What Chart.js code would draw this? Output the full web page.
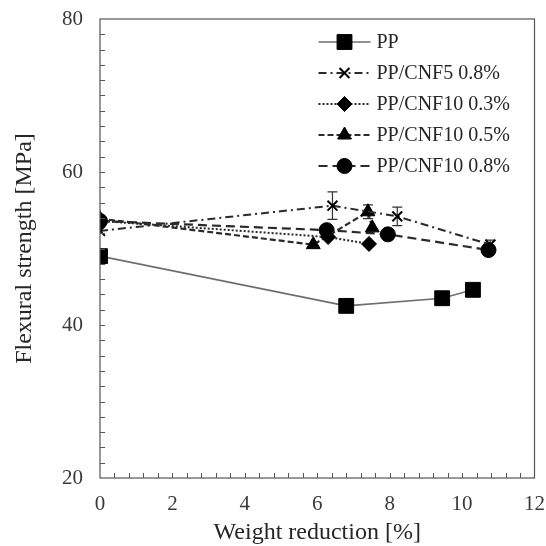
<!DOCTYPE html>
<html>
<head>
<meta charset="utf-8">
<script src="https://cdn.jsdelivr.net/npm/chart.js@4.4.0/dist/chart.umd.min.js"></script>
<style>
  html, body { margin: 0; padding: 0; background: #ffffff; }
  #wrap { width: 546px; height: 546px; position: relative; }
</style>
</head>
<body>
<div id="wrap"><canvas id="chart"></canvas></div>
<script>
// Series names
const seriesNames = ['PP', 'PP/CNF5 0.8%', 'PP/CNF10 0.3%', 'PP/CNF10 0.5%', 'PP/CNF10 0.8%'];

// Weight reduction [%] and flexural strength [MPa] per series
const ppX = [0, 6.8, 9.45, 10.3];
const ppY = [49.0, 42.5, 43.5, 44.6];

const cnf5x08X = [0, 6.42, 8.21, 10.78];
const cnf5x08Y = [52.3, 55.6, 54.2, 50.5];
const cnf5x08Err = [0, 1.8, 1.2, 0.6];

const cnf10x03X = [0, 6.30, 7.43];
const cnf10x03Y = [53.6, 51.5, 50.6];

const cnf10x05X = [0, 5.89, 7.40, 7.52];
const cnf10x05Y = [53.9, 50.5, 54.8, 52.7];
const cnf10x05Err = [0, 0, 0.9, 0];

const cnf10x08X = [0, 6.26, 7.95, 10.73];
const cnf10x08Y = [53.6, 52.4, 51.85, 49.8];

// Axis settings
const xMin = 0, xMax = 12, xStep = 2, xMinorStep = 0.4;
const yMin = 20, yMax = 80, yStep = 20, yMinorStep = 2;

const SERIF = "'Liberation Serif', 'Times New Roman', serif";

function points(xs, ys) {
  return xs.map((x, i) => ({ x: x, y: ys[i] }));
}

const datasets = [
  {
    label: seriesNames[0], data: points(ppX, ppY),
    borderColor: '#6e6e6e', borderWidth: 1.6, borderDash: [],
    pointStyle: 'rect', pointRadius: 10.5, pointHoverRadius: 10.5,
    pointBackgroundColor: '#000', pointBorderColor: '#000', pointBorderWidth: 1
  },
  {
    label: seriesNames[1], data: points(cnf5x08X, cnf5x08Y), errors: cnf5x08Err,
    borderColor: '#2a2a2a', borderWidth: 2, borderDash: [8, 4, 2, 4],
    pointStyle: 'crossRot', pointRadius: 7, pointHoverRadius: 7,
    pointBackgroundColor: '#000', pointBorderColor: '#000', pointBorderWidth: 2
  },
  {
    label: seriesNames[2], data: points(cnf10x03X, cnf10x03Y),
    borderColor: '#2a2a2a', borderWidth: 2, borderDash: [2, 2],
    pointStyle: 'rectRot', pointRadius: 7.5, pointHoverRadius: 7.5,
    pointBackgroundColor: '#000', pointBorderColor: '#000', pointBorderWidth: 1
  },
  {
    label: seriesNames[3], data: points(cnf10x05X, cnf10x05Y), errors: cnf10x05Err,
    borderColor: '#2a2a2a', borderWidth: 2.2, borderDash: [6, 3],
    pointStyle: 'triangle', pointRadius: 8, pointHoverRadius: 8,
    pointBackgroundColor: '#000', pointBorderColor: '#000', pointBorderWidth: 1
  },
  {
    label: seriesNames[4], data: points(cnf10x08X, cnf10x08Y),
    borderColor: '#2a2a2a', borderWidth: 2.2, borderDash: [9, 5],
    pointStyle: 'circle', pointRadius: 7.5, pointHoverRadius: 7.5,
    pointBackgroundColor: '#000', pointBorderColor: '#000', pointBorderWidth: 1
  }
];

// Frame, inward tick marks and error bars
const decorations = {
  id: 'decorations',
  beforeDatasetsDraw(chart) {
    const { ctx, scales: { x, y } } = chart;
    ctx.save();
    ctx.strokeStyle = '#333';
    ctx.lineWidth = 1.2;
    chart.data.datasets.forEach((ds) => {
      if (!ds.errors) return;
      ds.data.forEach((p, i) => {
        const e = ds.errors[i];
        if (!e) return;
        const px = x.getPixelForValue(p.x);
        const top = y.getPixelForValue(p.y + e);
        const bot = y.getPixelForValue(p.y - e);
        ctx.beginPath();
        ctx.moveTo(px, top); ctx.lineTo(px, bot);
        ctx.moveTo(px - 5, top); ctx.lineTo(px + 5, top);
        ctx.moveTo(px - 5, bot); ctx.lineTo(px + 5, bot);
        ctx.stroke();
      });
    });
    ctx.restore();
  },
  afterDraw(chart) {
    const { ctx, chartArea: a, scales: { x, y } } = chart;
    ctx.save();
    ctx.strokeStyle = '#555';
    ctx.lineWidth = 1.2;
    ctx.strokeRect(a.left, a.top, a.right - a.left, a.bottom - a.top);
    ctx.lineWidth = 1;
    ctx.beginPath();
    const ny = Math.round((yMax - yMin) / yMinorStep);
    for (let i = 1; i < ny; i++) {
      const py = Math.round(y.getPixelForValue(yMin + i * yMinorStep)) + 0.5;
      ctx.moveTo(a.left, py); ctx.lineTo(a.left + 5, py);
    }
    const nx = Math.round((xMax - xMin) / xMinorStep);
    for (let i = 1; i < nx; i++) {
      const px = Math.round(x.getPixelForValue(xMin + i * xMinorStep)) + 0.5;
      ctx.moveTo(px, a.bottom); ctx.lineTo(px, a.bottom - 5);
    }
    ctx.stroke();
    ctx.restore();
  }
};

// Legend drawn in the upper right of the plot area
const innerLegend = {
  id: 'innerLegend',
  afterDraw(chart) {
    const { ctx, chartArea: a } = chart;
    const x0 = a.right - 216, x1 = a.right - 164, xm = (x0 + x1) / 2;
    const tx = a.right - 158;
    ctx.save();
    chart.data.datasets.forEach((ds, i) => {
      const yy = a.top + 23 + i * 31;
      ctx.strokeStyle = ds.borderColor;
      ctx.lineWidth = ds.borderWidth;
      ctx.setLineDash(ds.borderDash || []);
      ctx.beginPath();
      ctx.moveTo(x0, yy); ctx.lineTo(x1, yy);
      ctx.stroke();
      ctx.setLineDash([]);
      ctx.fillStyle = ds.pointBackgroundColor;
      ctx.strokeStyle = ds.pointBorderColor;
      ctx.lineWidth = ds.pointBorderWidth;
      Chart.helpers.drawPoint(ctx, {
        pointStyle: ds.pointStyle, radius: ds.pointRadius, rotation: 0,
        borderWidth: ds.pointBorderWidth
      }, xm, yy);
      ctx.fillStyle = '#262626';
      ctx.font = '20px ' + SERIF;
      ctx.textAlign = 'left';
      ctx.textBaseline = 'middle';
      ctx.fillText(ds.label, tx, yy + 1);
    });
    ctx.restore();
  }
};

new Chart(document.getElementById('chart'), {
  type: 'line',
  data: { datasets: datasets },
  options: {
    responsive: true,
    maintainAspectRatio: false,
    animation: false,
    layout: { padding: { left: 0, right: 10, top: 19, bottom: 0 } },
    plugins: { legend: { display: false }, tooltip: { enabled: false } },
    elements: { line: { tension: 0, fill: false } },
    scales: {
      x: {
        type: 'linear', min: xMin, max: xMax,
        grid: { display: false, drawTicks: false },
        border: { display: false },
        ticks: { stepSize: xStep, padding: 14, color: '#3a3a3a', font: { family: SERIF, size: 21 } },
        title: {
          display: true, text: 'Weight reduction [%]', color: '#262626',
          font: { family: SERIF, size: 24, lineHeight: 1 }, padding: { top: 0, bottom: 1 }
        },
        afterFit(scale) {
          scale.height = 68;
          scale.paddingLeft = 0;
          scale.paddingRight = 0;
        }
      },
      y: {
        type: 'linear', min: yMin, max: yMax,
        grid: { display: false, drawTicks: false },
        border: { display: false },
        ticks: { stepSize: yStep, padding: 17, color: '#3a3a3a', font: { family: SERIF, size: 21 } },
        title: {
          display: true, text: 'Flexural strength [MPa]', color: '#262626',
          font: { family: SERIF, size: 24, lineHeight: 1 }, padding: { top: 13, bottom: 0 }
        },
        afterFit(scale) {
          scale.width = 100;
          scale.paddingTop = 0;
          scale.paddingBottom = 0;
        }
      }
    }
  },
  plugins: [decorations, innerLegend]
});
</script>
</body>
</html>
